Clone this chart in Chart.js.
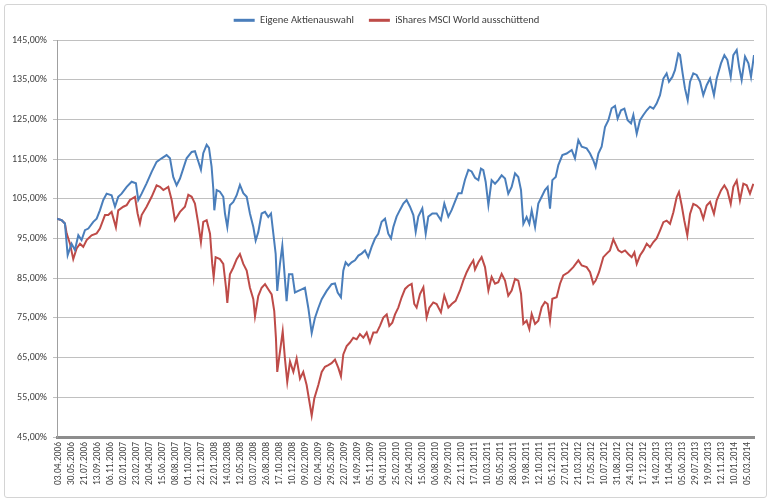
<!DOCTYPE html>
<html lang="de">
<head>
<meta charset="utf-8">
<title>Eigene Aktienauswahl vs. iShares MSCI World</title>
<script src="https://cdn.jsdelivr.net/npm/chart.js@4.4.1/dist/chart.umd.min.js"></script>
<style>
    html, body { margin: 0; padding: 0; background: #ffffff; }
    #rahmen { position: relative; width: 770px; height: 501px; }
    #rahmen .kante {
        position: absolute; left: 4px; top: 4px; width: 761px; height: 492px;
        border: 1px solid #d4d4d4; border-radius: 3px; pointer-events: none;
    }
</style>
</head>
<body>
<div id="rahmen">
    <canvas id="grafikVergleich" width="770" height="501"></canvas>
    <div class="kante"></div>
</div>
<script>
// Beschriftung der Datumsachse (jede Marke eine Position 0, 1, 2 ...)
const datumLabels = [
    "03.04.2006", "30.05.2006", "21.07.2006", "13.09.2006", "06.11.2006", "02.01.2007",
    "23.02.2007", "20.04.2007", "15.06.2007", "08.08.2007", "01.10.2007", "22.11.2007",
    "22.01.2008", "14.03.2008", "12.05.2008", "03.07.2008", "26.08.2008", "17.10.2008",
    "10.12.2008", "09.02.2009", "02.04.2009", "29.05.2009", "22.07.2009", "14.09.2009",
    "05.11.2009", "04.01.2010", "25.02.2010", "22.04.2010", "15.06.2010", "06.08.2010",
    "29.09.2010", "22.11.2010", "17.01.2011", "10.03.2011", "05.05.2011", "28.06.2011",
    "19.08.2011", "12.10.2011", "05.12.2011", "27.01.2012", "21.03.2012", "17.05.2012",
    "10.07.2012", "31.08.2012", "24.10.2012", "17.12.2012", "14.02.2013", "11.04.2013",
    "05.06.2013", "29.07.2013", "19.09.2013", "12.11.2013", "10.01.2014", "05.03.2014"
];

// Eigene Aktienauswahl: Position auf der Datumsachse und Wert in %
const blauPos = [
    -0.15, 0.21, 0.46, 0.67, 0.97, 1.23, 1.49, 1.74, 2.00, 2.26,
    2.64, 2.90, 3.15, 3.41, 3.67, 4.05, 4.31, 4.56, 4.82, 5.21,
    5.59, 5.92, 6.10, 6.36, 6.74, 7.13, 7.51, 7.90, 8.28, 8.54,
    8.79, 9.05, 9.31, 9.56, 9.82, 10.21, 10.46, 10.72, 10.92, 11.10,
    11.36, 11.54, 11.74, 11.87, 11.95, 12.13, 12.38, 12.64, 12.77, 12.95,
    13.15, 13.41, 13.67, 13.92, 14.18, 14.44, 14.69, 14.95, 15.13, 15.33,
    15.59, 15.85, 16.10, 16.31, 16.49, 16.67, 16.79, 17.00, 17.18, 17.33,
    17.51, 17.69, 17.95, 18.15, 18.41, 18.67, 18.92, 19.18, 19.44, 19.69,
    19.95, 20.21, 20.59, 20.97, 21.23, 21.44, 21.69, 21.87, 22.05, 22.26,
    22.51, 22.77, 23.03, 23.28, 23.54, 23.79, 24.05, 24.31, 24.56, 24.82,
    25.08, 25.33, 25.54, 25.72, 25.97, 26.23, 26.49, 26.74, 27.00, 27.26,
    27.44, 27.64, 27.95, 28.21, 28.41, 28.72, 29.05, 29.38, 29.64, 29.95,
    30.21, 30.46, 30.72, 30.97, 31.23, 31.49, 31.74, 32.00, 32.26, 32.46,
    32.64, 32.82, 33.03, 33.28, 33.54, 33.79, 34.05, 34.31, 34.56, 34.82,
    35.08, 35.33, 35.54, 35.72, 35.97, 36.18, 36.36, 36.62, 36.87, 37.13,
    37.38, 37.59, 37.77, 37.95, 38.21, 38.41, 38.72, 39.05, 39.44, 39.69,
    39.95, 40.21, 40.59, 40.85, 41.10, 41.28, 41.49, 41.74, 42.00, 42.26,
    42.51, 42.77, 42.97, 43.23, 43.49, 43.74, 44.00, 44.18, 44.44, 44.69,
    44.95, 45.21, 45.46, 45.72, 45.97, 46.23, 46.49, 46.74, 46.92, 47.18,
    47.38, 47.64, 47.77, 47.97, 48.15, 48.36, 48.54, 48.79, 49.05, 49.31,
    49.56, 49.82, 50.08, 50.38, 50.59, 50.92, 51.18, 51.41, 51.67, 51.87,
    52.13, 52.31, 52.51, 52.77, 53.03, 53.23, 53.46
];
const blauWerte = [
    100.0, 99.6, 98.8, 90.8, 93.7, 92.1, 95.8, 94.6, 97.1, 97.5,
    99.2, 100.0, 102.1, 104.7, 106.3, 105.9, 103.0, 105.5, 106.3, 108.0,
    109.3, 108.9, 104.7, 106.3, 108.9, 111.8, 114.3, 115.2, 116.0, 115.2,
    110.5, 108.4, 110.1, 112.6, 115.2, 116.8, 117.0, 114.4, 112.3, 116.5,
    118.6, 117.8, 113.1, 107.6, 102.1, 107.2, 106.8, 105.5, 101.3, 97.9,
    103.4, 104.2, 105.9, 108.5, 106.4, 105.5, 101.3, 97.9, 94.5, 96.6,
    101.3, 101.7, 100.4, 101.3, 96.2, 91.1, 81.8, 88.6, 93.2, 86.9,
    79.2, 86.0, 86.0, 81.4, 81.8, 82.2, 82.6, 77.5, 71.2, 75.0,
    77.5, 79.7, 81.8, 83.5, 83.7, 81.4, 80.2, 86.9, 89.0, 88.2,
    89.0, 89.5, 90.7, 91.2, 92.0, 90.3, 92.9, 95.0, 96.2, 99.2,
    100.0, 96.2, 95.0, 97.9, 100.5, 102.2, 103.8, 104.7, 103.0, 100.9,
    96.7, 100.5, 102.6, 96.2, 100.5, 101.3, 101.3, 99.6, 103.8, 100.5,
    102.2, 104.3, 106.4, 106.4, 109.8, 112.3, 111.9, 110.3, 109.7, 112.6,
    112.2, 109.3, 103.4, 109.7, 108.8, 109.7, 110.9, 110.1, 106.3, 108.0,
    111.4, 110.5, 107.2, 98.7, 100.4, 98.7, 102.1, 97.9, 103.8, 105.5,
    107.2, 108.0, 102.5, 109.7, 110.5, 113.5, 116.0, 116.4, 117.3, 115.2,
    119.8, 118.1, 117.7, 116.4, 114.7, 113.0, 116.4, 118.1, 123.1, 124.8,
    127.8, 128.4, 125.2, 127.3, 127.7, 124.8, 124.0, 126.1, 121.4, 124.8,
    126.1, 127.3, 128.2, 127.7, 129.0, 131.1, 135.3, 136.6, 134.5, 135.7,
    137.4, 141.6, 141.2, 136.6, 132.8, 129.8, 134.5, 136.6, 136.2, 134.5,
    131.1, 133.6, 135.3, 131.1, 135.3, 139.1, 141.2, 140.0, 135.7, 141.2,
    142.5, 138.3, 134.9, 140.8, 139.1, 135.7, 141.2
];

// iShares MSCI World ausschüttend
const rotPos = [
    -0.15, 0.21, 0.46, 0.59, 0.85, 1.10, 1.36, 1.62, 1.87, 2.13,
    2.51, 2.90, 3.15, 3.54, 3.79, 4.05, 4.38, 4.56, 4.95, 5.21,
    5.46, 5.85, 6.05, 6.23, 6.36, 6.74, 7.13, 7.51, 7.77, 8.03,
    8.41, 8.67, 8.92, 9.31, 9.69, 9.95, 10.21, 10.46, 10.72, 10.92,
    11.10, 11.36, 11.62, 11.79, 11.90, 12.05, 12.38, 12.64, 12.85, 12.95,
    13.15, 13.41, 13.67, 13.92, 14.18, 14.44, 14.69, 14.95, 15.08, 15.33,
    15.59, 15.85, 16.10, 16.36, 16.56, 16.69, 16.79, 17.00, 17.21, 17.38,
    17.56, 17.77, 18.03, 18.28, 18.54, 18.79, 19.05, 19.31, 19.44, 19.64,
    19.95, 20.21, 20.46, 20.72, 20.97, 21.23, 21.49, 21.69, 21.87, 22.13,
    22.38, 22.64, 22.90, 23.15, 23.41, 23.67, 23.92, 24.18, 24.44, 24.69,
    24.95, 25.21, 25.41, 25.64, 25.85, 26.10, 26.36, 26.62, 26.87, 27.13,
    27.33, 27.51, 27.77, 28.03, 28.28, 28.49, 28.79, 29.05, 29.38, 29.64,
    29.95, 30.21, 30.51, 30.85, 31.10, 31.36, 31.62, 31.87, 32.00, 32.26,
    32.51, 32.77, 33.03, 33.28, 33.54, 33.79, 34.05, 34.31, 34.56, 34.82,
    35.08, 35.33, 35.54, 35.72, 35.97, 36.18, 36.36, 36.62, 36.87, 37.13,
    37.38, 37.59, 37.77, 37.95, 38.28, 38.54, 38.79, 39.18, 39.56, 39.95,
    40.21, 40.59, 40.85, 41.10, 41.28, 41.54, 41.87, 42.13, 42.38, 42.64,
    43.03, 43.28, 43.54, 43.79, 44.05, 44.26, 44.44, 44.69, 44.95, 45.21,
    45.46, 45.72, 45.97, 46.23, 46.49, 46.74, 47.00, 47.26, 47.51, 47.69,
    47.90, 48.10, 48.33, 48.54, 48.79, 49.05, 49.31, 49.56, 49.82, 50.08,
    50.38, 50.59, 50.92, 51.18, 51.41, 51.67, 51.87, 52.13, 52.38, 52.64,
    52.90, 53.15, 53.41
];
const rotWerte = [
    100.0, 99.6, 98.8, 96.3, 93.7, 89.8, 92.5, 93.7, 92.9, 94.6,
    95.8, 96.3, 97.5, 100.9, 100.9, 101.7, 97.8, 102.1, 103.0, 103.4,
    104.7, 105.5, 101.3, 98.8, 100.9, 103.0, 105.5, 108.4, 108.0, 107.2,
    108.0, 104.7, 99.6, 101.7, 103.0, 106.0, 105.5, 103.8, 98.7, 94.1,
    99.2, 99.6, 96.2, 88.6, 85.2, 90.3, 89.8, 88.6, 82.6, 78.8,
    86.0, 87.7, 89.8, 91.1, 88.6, 86.9, 82.6, 79.7, 75.4, 80.5,
    82.6, 83.5, 82.2, 80.9, 76.7, 69.9, 61.4, 66.5, 71.6, 64.8,
    58.9, 64.0, 61.4, 64.8, 59.7, 61.4, 58.1, 53.0, 50.4, 54.7,
    58.1, 61.4, 62.7, 63.1, 63.6, 64.5, 62.4, 60.3, 65.8, 67.9,
    68.8, 70.0, 69.6, 70.9, 70.0, 71.3, 68.8, 71.3, 71.3, 73.0,
    75.1, 75.9, 73.0, 73.8, 75.9, 77.6, 80.2, 82.3, 83.1, 83.6,
    78.5, 77.6, 81.0, 82.7, 75.1, 77.6, 78.9, 78.5, 76.4, 80.6,
    77.6, 78.5, 79.3, 81.9, 84.4, 86.5, 88.2, 89.5, 87.2, 89.0,
    90.3, 87.8, 81.9, 85.3, 83.6, 84.0, 86.1, 84.4, 80.6, 81.9,
    84.8, 84.4, 81.1, 73.5, 74.3, 72.2, 76.0, 73.5, 74.3, 77.7,
    79.0, 78.5, 74.3, 79.8, 80.2, 83.6, 85.7, 86.5, 87.8, 89.5,
    88.2, 87.8, 86.5, 83.6, 84.4, 86.5, 90.3, 91.2, 92.0, 94.8,
    92.0, 91.5, 92.0, 91.1, 90.3, 91.5, 88.6, 90.7, 92.0, 93.7,
    92.8, 94.1, 95.0, 97.0, 99.1, 99.5, 98.7, 101.6, 105.4, 106.7,
    103.3, 99.5, 95.8, 101.2, 103.7, 103.3, 102.5, 100.0, 103.3, 104.2,
    101.2, 104.6, 107.1, 108.4, 107.1, 103.7, 108.0, 109.6, 104.6, 108.8,
    108.4, 106.3, 108.8
];

// y-Achse: 45 % bis 145 % in 10er Schritten
const yMin = 45, yMax = 145, ySchritt = 10;

(function() {
    const messCtx = document.createElement('canvas').getContext('2d');

    // prüft, ob eine Schrift installiert ist (Vergleich gegen monospace)
    function schriftVorhanden(name) {
        const probe = 'Eigene Aktienauswahl 0123456789,%';
        messCtx.font = '20px monospace';
        const a = messCtx.measureText(probe).width;
        messCtx.font = '20px "' + name + '", monospace';
        return messCtx.measureText(probe).width !== a;
    }

    const kandidaten = ['Carlito', 'Liberation Sans Narrow', 'Liberation Sans', 'DejaVu Sans Condensed'];
    const gefunden = kandidaten.find(schriftVorhanden) || 'Arial';
    const schrift = '"' + gefunden + '", sans-serif';

    // Schriftgröße so wählen, dass ein Text ungefähr die Breite aus dem Original hat
    function groesseFuer(text, zielBreite) {
        messCtx.font = '20px ' + schrift;
        const g = 20 * zielBreite / messCtx.measureText(text).width;
        return Math.max(8.5, Math.min(12, g));
    }
    const gLegende = groesseFuer('Eigene Aktienauswahl', 94);
    const gY = groesseFuer('145,00%', 35);
    const gX = groesseFuer('03.04.2006', 43);

    Chart.defaults.font.family = schrift;
    Chart.defaults.color = '#404040';

    const punkte = (pos, werte) => pos.map((x, i) => ({ x: x, y: werte[i] }));

    // Legende: feste Höhe (Zeichenfläche beginnt bei y=40) und etwas nach rechts gerückt
    const legendeAnpassen = {
        id: 'legendeAnpassen',
        beforeLayout(chart) {
            const lg = chart.legend;
            if (!lg || lg._festeHoehe) return;
            const fitOrig = lg.fit.bind(lg);
            lg.fit = function() { fitOrig(); this.height = 40; };
            lg._festeHoehe = true;
        },
        afterLayout(chart) {
            const lg = chart.legend;
            if (!lg) return;
            lg.left += 7;
            lg.right += 7;
        }
    };

    new Chart(document.getElementById('grafikVergleich'), {
        type: 'line',
        data: {
            datasets: [{
                label: 'Eigene Aktienauswahl',
                data: punkte(blauPos, blauWerte),
                borderColor: '#4a7ebb',
                backgroundColor: '#4a7ebb',
                borderWidth: 2,
                pointRadius: 0,
                tension: 0
            }, {
                label: 'iShares MSCI World ausschüttend',
                data: punkte(rotPos, rotWerte),
                borderColor: '#be4b48',
                backgroundColor: '#be4b48',
                borderWidth: 2,
                pointRadius: 0,
                tension: 0
            }]
        },
        options: {
            responsive: false,
            animation: false,
            parsing: false,
            layout: { padding: { left: 5, right: 16, top: 0, bottom: 5 } },
            plugins: {
                tooltip: { enabled: false },
                legend: {
                    position: 'top',
                    labels: {
                        boxWidth: 21,
                        boxHeight: 3,
                        padding: 15,
                        color: '#404040',
                        font: { size: gLegende },
                        generateLabels: chart => Chart.defaults.plugins.legend.labels
                            .generateLabels(chart).map(l => Object.assign(l, { lineWidth: 0 }))
                    }
                }
            },
            scales: {
                x: {
                    type: 'linear',
                    min: -0.15,
                    max: 53.46,
                    afterBuildTicks: s => { s.ticks = datumLabels.map((_, i) => ({ value: i })); },
                    afterFit: s => { s.height = 59; },
                    grid: { drawOnChartArea: false, drawTicks: false },
                    border: { display: true, width: 3, color: '#8d8d8d' },
                    ticks: {
                        autoSkip: false,
                        maxRotation: 90,
                        minRotation: 90,
                        padding: 5,
                        color: '#404040',
                        font: { size: gX },
                        callback: (v, i) => datumLabels[i]
                    }
                },
                y: {
                    min: yMin,
                    max: yMax,
                    afterFit: s => { s.width = 52; },
                    grid: { color: '#c0c0c0', lineWidth: 1, tickLength: 4 },
                    border: { color: '#a0a0a0', width: 1 },
                    ticks: {
                        stepSize: ySchritt,
                        padding: 6,
                        color: '#404040',
                        font: { size: gY },
                        callback: v => v.toFixed(2).replace('.', ',') + '%'
                    }
                }
            }
        },
        plugins: [legendeAnpassen]
    });
})();
</script>
</body>
</html>
